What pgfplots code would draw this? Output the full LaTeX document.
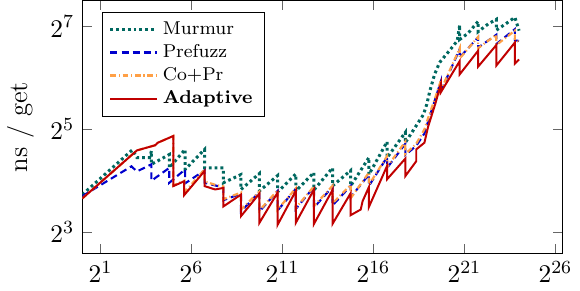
\documentclass[border=0pt]{standalone}
\usepackage{pgfplots}
\pgfplotsset{compat=1.18}
\definecolor{cmur}{RGB}{0,104,96}
\definecolor{cpre}{RGB}{0,0,205}
\definecolor{ccop}{RGB}{255,160,70}
\definecolor{cada}{RGB}{192,0,0}
\begin{document}
\begin{tikzpicture}
\begin{axis}[
  scale only axis,
  width=207pt, height=109pt,
  xmode=log, ymode=log,
  log basis x=2, log basis y=2,
  xmin=1, xmax=88550000,
  ymin=6.0, ymax=182,
  xtick={2,64,2048,65536,2097152,67108864},
  ytick={8,32,128},
  xminorticks=false, yminorticks=false,
  tick style={black!60},
  ticklabel style={font=\fontsize{11pt}{13pt}\selectfont},
  ylabel={\fontsize{11.5pt}{13pt}\selectfont ns / get},
  legend style={font=\footnotesize, at={(0.04,0.955)}, anchor=north west, draw=black, cells={anchor=west}, row sep=-1.2pt},
  legend image code/.code={\draw[mark repeat=2,mark phase=2,#1] plot coordinates {(0cm,0cm) (0.35cm,0cm) (0.7cm,0cm)};},
]
% Murmur
\addplot[cmur, line width=1.3pt, dash pattern=on 1.2pt off 1.3pt] coordinates {
(1,13.27) (6.727,24.25) (8,21.86) (13.0,21.86) (13.93,23.92) (13.93,19.97)
(27.47,22.78) (27.47,19.03) (50.21,24.42) (50.21,18.64) (105.4,24.42) (105.4,19.03)
(215.3,19.03) (215.3,15.56) (421.7,17.39) (421.7,14.22) (849.3,17.63) (849.3,13.93)
(1698.6,17.15) (1698.6,13.74) (3397,17.51) (3397,13.93) (6795,17.87) (6795,14.13)
(13777,19.03) (13777,14.93) (27554,18.38) (27554,14.93) (55109,21.86) (55109,17.39)
(110218,27.09) (110218,21.86) (220436,30.69) (220436,26.72) (262144,29.44)
(440920,39.14) (499380,44.93) (562040,53.82) (672660,67.2) (811600,78.79)
(1179650,92.41) (1589640,105.4) (1751122,130.7) (1751122,107.6) (2409630,117.0)
(3527410,137.2) (3527410,119.4) (5163190,132.5) (7054819,141.1) (7054819,121.9)
(10326380,133.5) (14302577,145.0) (16777216,121.1)
};
\addlegendentry{Murmur}
% Prefuzz
\addplot[cpre, line width=0.9pt, dash pattern=on 3pt off 1.8pt] coordinates {
(1,13.0) (6.50,19.43) (8,18.13) (13.93,19.97) (13.93,16) (27.47,19.03) (27.47,15.56)
(50.21,18.64) (50.21,15.45) (105.4,18.38) (105.4,15.56) (215.3,14.62) (215.3,12.30)
(421.7,13.45) (421.7,10.56) (849.3,13.74) (849.3,10.56) (1698.6,13.93) (1698.6,10.71)
(3397,14.32) (3397,10.93) (6795,14.72) (6795,11.16) (13777,14.72) (13777,11.47)
(27554,14.93) (27554,12.82) (55109,17.39) (55109,14.93) (110218,22.01) (110218,19.03)
(220436,26.35) (220436,22.63) (334200,25.63) (456400,30.27) (524288,35.52)
(692060,48.50) (851968,60.96) (851968,53.45) (1751122,94.34) (1751122,84.45)
(3527410,110.7) (3527410,96.33) (7054819,114.6) (7054819,101.1)
(14302577,123.6) (14302577,106.2) (16777216,105.4)
};
\addlegendentry{Prefuzz}
% Co+Pr
\addplot[ccop, line width=0.95pt, dash pattern=on 2.4pt off 1.2pt on 0.5pt off 1.2pt] coordinates {
(1,12.60) (8,24.08) (16,25.81) (17.76,26.72) (32,29.25) (32,15.03) (48.50,16)
(48.50,13.64) (105.4,18.64) (105.4,15.89) (157.6,15.14) (215.3,14.82) (215.3,12.47)
(421.7,13.64) (421.7,10.85) (849.3,13.83) (849.3,10.71) (1698.6,14.03) (1698.6,10.85)
(3397,14.42) (3397,11.08) (6795,14.82) (6795,11.39) (13777,14.93) (13777,11.79)
(27554,15.14) (27554,12.64) (55109,17.87) (55109,15.14) (110218,22.32) (110218,19.29)
(220436,27.09) (220436,22.94) (334200,26.35) (456400,32) (524288,37.28)
(692060,49.18) (851968,61.82) (851968,54.18) (1751122,95.66) (1751122,83.27)
(3527410,111.4) (3527410,95.66) (7054819,114.6) (7054819,99.73)
(14302577,121.1) (14302577,106.9) (16777216,104.0)
};
\addlegendentry{Co+Pr}
% Adaptive
\addplot[cada, line width=0.85pt] coordinates {
(1,12.60) (8,24.08) (16,25.81) (17.76,26.72) (32,29.25) (32,14.88) (48.50,15.89)
(48.50,13.18) (105.4,18.26) (105.4,14.88) (157.6,14.22) (215.3,14.52) (215.3,11.31)
(421.7,13.27) (421.7,9.92) (849.3,13.45) (849.3,9.06) (1698.6,13.64) (1698.6,8.82)
(3397,13.93) (3397,9.06) (6795,14.22) (6795,8.94) (13777,14.13) (13777,8.94)
(27554,13.55) (27554,10.06) (40330,10.85) (43250,12.13) (55109,14.72) (55109,11.24)
(110218,19.57) (110218,16.33) (220436,21.56) (220436,17.03) (334200,20.82)
(334200,24.42) (456400,26.72) (524288,33.12) (692060,45.25) (851968,58.89)
(851968,52.71) (1751122,80.45) (1751122,67.2) (3527410,92.41) (3527410,74.56)
(7054819,99.73) (7054819,75.6) (14302577,103.2) (14302577,77.7) (16777216,82.1)
};
\addlegendentry{\textbf{Adaptive}}
\end{axis}
\end{tikzpicture}
\end{document}
